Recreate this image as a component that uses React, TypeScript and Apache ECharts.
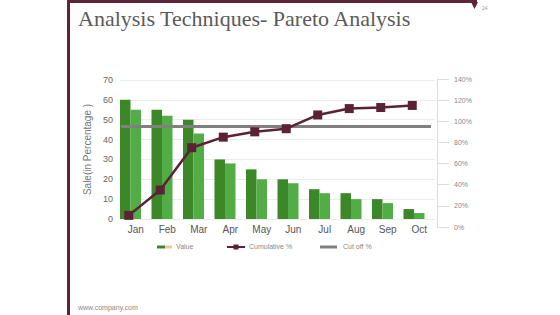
import React, { useEffect, useRef } from "react";
import * as echarts from "echarts";

const months = ["Jan", "Feb", "Mar", "Apr", "May", "Jun", "Jul", "Aug", "Sep", "Oct"];
const valueA = [60, 55, 50, 30, 25, 20, 15, 13, 10, 5];
const valueB = [55, 52, 43, 28, 20, 18, 13, 10, 8, 3];
const cumulative = [11, 35, 75, 85, 90, 93, 106, 112, 113, 115];
const cutOff = [95, 95, 95, 95, 95, 95, 95, 95, 95, 95];
const leftTicks = { min: 0, max: 70, interval: 10 };
const rightTicks = { min: 0, max: 140, interval: 20 };

const MAROON = "#5b2136";
const DARK = "#3c8727";
const LIGHT = "#52ad47";

export default function App() {
  const ref = useRef<HTMLDivElement>(null);
  useEffect(() => {
    const chart = echarts.init(ref.current!, null, { renderer: "svg" });
    const font = "Arial, 'Liberation Sans', sans-serif";
    chart.setOption({
      animation: false,
      backgroundColor: "#ffffff",
      grid: [
        { left: 120, right: 125, top: 80, bottom: 96 },
        { left: 113, right: 132, top: 79, bottom: 88 },
        { left: 121, right: 129, top: 79, bottom: 88 },
      ],
      xAxis: [
        {
          type: "category", gridIndex: 0, data: months, boundaryGap: true,
          axisLine: { show: false }, axisTick: { show: false },
          axisLabel: { color: "#555", fontSize: 10, margin: 5, fontFamily: font },
        },
        { type: "category", gridIndex: 1, data: months, boundaryGap: true, show: false },
        { type: "category", gridIndex: 2, data: months, boundaryGap: false, show: false },
      ],
      yAxis: [
        {
          type: "value", gridIndex: 0, ...leftTicks,
          name: "Sale(in Percentage )", nameLocation: "middle", nameGap: 22,
          nameTextStyle: { color: "#777", fontSize: 10, fontFamily: font },
          axisLine: { show: false }, axisTick: { show: false },
          axisLabel: { color: "#666", fontSize: 9, margin: 7, fontFamily: font },
          splitLine: { lineStyle: { color: "#ececec", width: 1 } },
        },
        {
          type: "value", gridIndex: 1, position: "right", offset: 9, ...rightTicks,
          axisLine: { show: true, lineStyle: { color: "#dcdcdc" } },
          axisTick: { show: true, length: 12, inside: false, lineStyle: { color: "#dcdcdc" } },
          axisLabel: { color: "#888", fontSize: 7, margin: 17, formatter: "{value}%", fontFamily: font },
          splitLine: { show: false },
        },
        { type: "value", gridIndex: 2, ...rightTicks, show: false },
      ],
      series: [
        {
          name: "Value", type: "bar", xAxisIndex: 0, yAxisIndex: 0, data: valueA,
          itemStyle: { color: DARK }, barGap: "0%", barCategoryGap: "0%",
        },
        {
          name: "Value2", type: "bar", xAxisIndex: 0, yAxisIndex: 0, data: valueB,
          itemStyle: { color: LIGHT }, barGap: "0%", barCategoryGap: "0%",
        },
        {
          name: "spacer", type: "bar", xAxisIndex: 0, yAxisIndex: 0, data: months.map(() => 0),
          itemStyle: { color: "rgba(0,0,0,0)" }, barGap: "0%", barCategoryGap: "0%", silent: true,
        },
        {
          name: "Cut off %", type: "line", xAxisIndex: 2, yAxisIndex: 2, data: cutOff,
          symbol: "none", lineStyle: { color: "#808080", width: 3 }, z: 3,
        },
        {
          name: "Cumulative %", type: "line", xAxisIndex: 1, yAxisIndex: 1, data: cumulative,
          symbol: "rect", symbolSize: 9, itemStyle: { color: MAROON },
          lineStyle: { color: MAROON, width: 2.5 }, z: 5,
        },
      ],
      graphic: [
        { type: "rect", shape: { x: 67, y: 0, width: 3, height: 315 }, style: { fill: "#5e2538" } },
        { type: "rect", shape: { x: 67, y: 0, width: 410, height: 3 }, style: { fill: "#5e2538" } },
        { type: "polygon", shape: { points: [[471, 2], [478, 2], [474.5, 9]] }, style: { fill: "#5e2538" } },
        { type: "text", left: 482, top: 5, style: { text: "24", fill: "#999", fontSize: 5, fontFamily: font } },
        {
          type: "text", left: 78, top: 7,
          style: { text: "Analysis Techniques- Pareto Analysis", fill: "#5a5a5a", fontSize: 22, fontFamily: "'Liberation Serif', 'DejaVu Serif', serif" },
        },
        { type: "text", left: 78, top: 304, style: { text: "www.company.com", fill: "#888", fontSize: 7, fontFamily: font } },
        // legend
        { type: "rect", shape: { x: 157, y: 245.5, width: 8, height: 3 }, style: { fill: DARK } },
        { type: "rect", shape: { x: 165, y: 245.5, width: 7, height: 3 }, style: { fill: "#f4c596" } },
        { type: "text", left: 176, top: 243, style: { text: "Value", fill: "#888", fontSize: 7, fontFamily: font } },
        { type: "line", shape: { x1: 227, y1: 247, x2: 245, y2: 247 }, style: { stroke: MAROON, lineWidth: 2 } },
        { type: "rect", shape: { x: 233.5, y: 244.5, width: 5, height: 5 }, style: { fill: MAROON } },
        { type: "text", left: 249, top: 243, style: { text: "Cumulative %", fill: "#888", fontSize: 7, fontFamily: font } },
        { type: "line", shape: { x1: 320, y1: 247, x2: 337, y2: 247 }, style: { stroke: "#808080", lineWidth: 3 } },
        { type: "text", left: 343, top: 243, style: { text: "Cut off %", fill: "#888", fontSize: 7, fontFamily: font } },
      ],
    });
    return () => chart.dispose();
  }, []);
  return <div ref={ref} style={{ position: "absolute", left: 0, top: 0, width: 560, height: 315 }} />;
}
